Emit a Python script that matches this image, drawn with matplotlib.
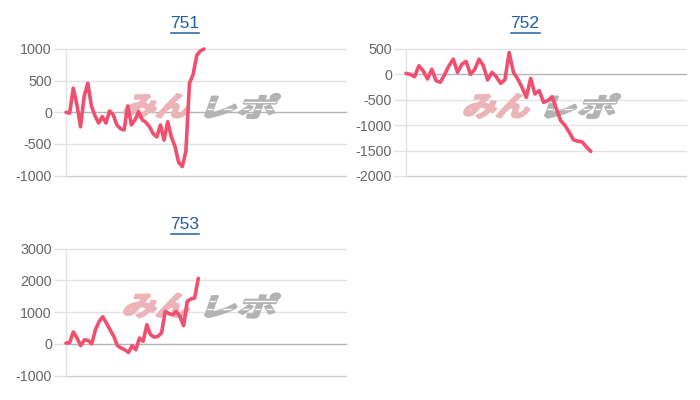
import numpy as np
import matplotlib
matplotlib.use("Agg")
import matplotlib.pyplot as plt
import matplotlib.transforms as mtransforms
from matplotlib.textpath import TextPath
from matplotlib.font_manager import FontProperties
from matplotlib.patches import PathPatch
from matplotlib.lines import Line2D

# ---------------- data ----------------
titles = ["751", "752", "753"]

values_751 = [0, -15, 380, 120, -230, 250, 460, 100, -60, -170, -70, -170, 20, -40,
              -200, -260, -280, 100, -200, -120, 10, -120, -160, -230, -340, -390,
              -200, -440, -150, -390, -540, -790, -860, -620, 460, 600, 900, 970, 1000]

values_752 = [20, 0, -45, 170, 70, -90, 100, -125, -155, 0, 170, 300, 40, 200, 255,
              0, 100, 300, 170, -110, 40, -45, -175, -110, 430, 40, -90, -255, -450,
              -80, -385, -320, -550, -515, -440, -680, -910, -1005, -1140, -1290,
              -1315, -1330, -1430, -1515]

values_753 = [20, 40, 370, 180, -60, 125, 105, 0, 440, 700, 850, 650, 440, 230, -60,
              -135, -190, -275, -60, -190, 180, 75, 600, 285, 210, 230, 340, 1020, 950,
              915, 1020, 860, 570, 1340, 1410, 1440, 2060]

yticks_751 = [-1000, -500, 0, 500, 1000]
yticks_752 = [-2000, -1500, -1000, -500, 0, 500]
yticks_753 = [-1000, 0, 1000, 2000, 3000]

# ---------------- layout ----------------
W, H = 700, 400
fig = plt.figure(figsize=(W / 100, H / 100), dpi=100)

# (left, right, top, bottom) in pixels; data end fraction of x-axis
panels = [
    (values_751, yticks_751, titles[0], (66, 346, 49, 175.5), 0.493, (185, 23.5)),
    (values_752, yticks_752, titles[1], (406, 686, 49, 176), 0.66, (525, 23.5)),
    (values_753, yticks_753, titles[2], (66, 346, 248.5, 375.5), 0.4725, (185, 224.5)),
]

line_color = "#f0506f"
grid_color = "#e3e3e3"
zero_color = "#b5b5b5"
bottom_color = "#cfcfcf"
label_color = "#666666"
title_color = "#1f5fa6"

logo_font = FontProperties(family=["Noto Sans CJK JP"], weight="bold")


def add_logo(ax, left, top):
    parts = [("みん", "#ecb4b9", 56, 129), ("レポ", "#b3b3b3", 138, 215)]
    y_top, y_bot = 45, 69
    h = y_bot - y_top
    ang = 20
    shear = np.tan(np.radians(ang))
    for txt, col, x0, x1 in parts:
        tp = TextPath((0, 0), txt, size=1, prop=logo_font)
        ext = tp.get_extents()
        w = (x1 - x0) - shear * h
        tr = (mtransforms.Affine2D()
              .translate(-ext.x0, -ext.y0)
              .scale(w / ext.width / 100, h / ext.height / 100)
              .skew_deg(ang, 0)
              .translate((left + x0) / 100, (H - top - y_bot) / 100)
              + fig.dpi_scale_trans)
        patch = PathPatch(tp, transform=tr, facecolor=col, edgecolor=col,
                          lw=1.6, joinstyle="round", zorder=1.5, clip_on=False)
        ax.add_artist(patch)
        if txt == "レポ":
            for frac in (0.36, 0.68):
                yy = (H - top - y_bot + h * frac) / 100
                ln = Line2D([(left + x0 - 5) / 100, (left + x1 + 5) / 100], [yy, yy],
                            transform=fig.dpi_scale_trans, color="white", lw=1.0,
                            zorder=1.6)
                ax.add_artist(ln)
                ln.set_clip_path(patch)


for vals, ticks, title, (l, r, t, b), frac, (tx, ty) in panels:
    ax = fig.add_axes([l / W, 1 - b / H, (r - l) / W, (b - t) / H])
    ax.set_facecolor("none")
    x = np.arange(len(vals))
    ax.set_xlim(0, (len(vals) - 1) / frac)
    ax.set_ylim(ticks[0], ticks[-1])
    ax.set_xticks([])
    ax.set_yticks(ticks)
    ax.set_yticklabels([str(v) for v in ticks], fontfamily="Liberation Sans",
                       fontsize=10.3, color=label_color)
    ax.tick_params(axis="y", length=8.6, width=1, color=grid_color, pad=1.5)
    for name in ("top", "right", "bottom"):
        ax.spines[name].set_visible(False)
    ax.spines["left"].set_color(grid_color)
    ax.spines["left"].set_linewidth(1)
    for tk, v in zip(ax.yaxis.get_major_ticks(), ticks):
        if v == 0:
            tk.tick1line.set_color(zero_color)
        elif v == ticks[0]:
            tk.tick1line.set_color(bottom_color)
    for v in ticks:
        c = zero_color if v == 0 else (bottom_color if v == ticks[0] else grid_color)
        ax.axhline(v, color=c, lw=1, zorder=1, clip_on=False)

    add_logo(ax, l, t)

    ax.plot(x, vals, color=line_color, lw=2.6, solid_joinstyle="round",
            solid_capstyle="round", zorder=3, clip_on=False)

    fig.text(tx / W, 1 - ty / H, title, ha="center", va="center",
             fontfamily="Liberation Sans", fontsize=12.5, color=title_color)
    fig.add_artist(Line2D([(tx - 14.5) / W, (tx + 14.5) / W],
                          [1 - (ty + 9.5) / H, 1 - (ty + 9.5) / H],
                          transform=fig.transFigure, color=title_color, lw=1.1))

fig.savefig("out.png", dpi=100, facecolor="white")
